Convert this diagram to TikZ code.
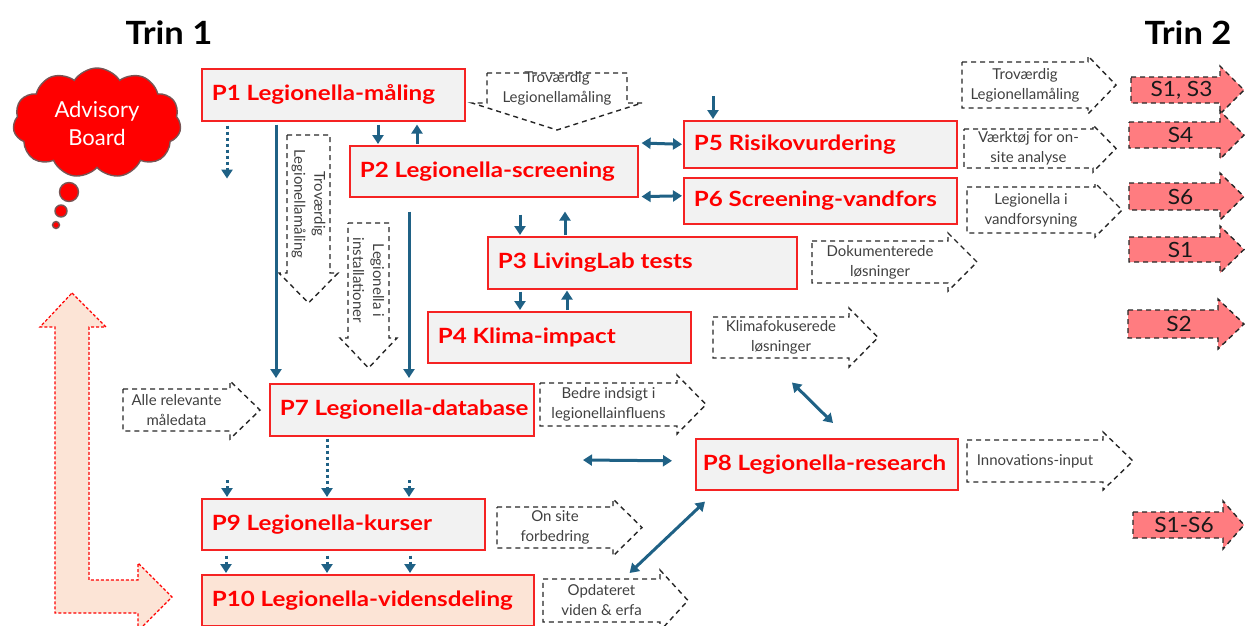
\documentclass[tikz,border=0pt]{standalone}
\usepackage{fontspec}
\setmainfont{Lato}
\newfontfamily\widefont[FakeStretch=1.15]{Lato}
\newfontfamily\midfont[FakeStretch=1.08]{Lato}
\usetikzlibrary{arrows.meta,calc,shapes.symbols}

\definecolor{flowblue}{RGB}{31,97,133}
\definecolor{boxred}{RGB}{245,35,35}
\definecolor{boxgray}{RGB}{242,242,242}
\definecolor{peach}{RGB}{252,228,214}
\definecolor{salmon}{RGB}{255,124,128}
\definecolor{labelgray}{RGB}{64,64,64}
\definecolor{cloudedge}{RGB}{120,85,85}

\tikzset{
  pbox/.style={draw=boxred, line width=1.6pt, fill=boxgray, anchor=north west,
    inner xsep=10pt, inner ysep=0pt, align=left,
    font=\widefont\fontsize{21}{24}\selectfont\bfseries, text=red},
  flow/.style={draw=flowblue, line width=3pt, -{Triangle[width=11pt,length=9pt]}},
  flow2/.style={draw=flowblue, line width=3pt,
    {Triangle[width=11pt,length=9pt]}-{Triangle[width=11pt,length=9pt]}},
  dotflow/.style={flow, dash pattern=on 3pt off 3pt},
  outline/.style={draw=black!85, line width=1.4pt, dash pattern=on 5pt off 4pt},
  outlabel/.style={text=labelgray, font=\fontsize{15}{20}\selectfont, align=center, inner sep=0pt},
  sarrow/.style={outline, fill=salmon},
  slabel/.style={text=black!90, font=\midfont\fontsize{21}{22}\selectfont, align=center, inner sep=0pt},
  heading/.style={font=\midfont\fontsize{32}{34}\selectfont\bfseries},
  bigarrow/.style={draw=red, fill=peach, line width=1.2pt, dash pattern=on 3pt off 2pt},
  puff/.style={fill=red, draw=cloudedge, line width=1.4pt},
}

% work package box: name, x, y, width, height, text width, text, extra style
\newcommand\projbox[8]{%
  \node[pbox, minimum width=#4pt, minimum height=#5pt, #8] (#1) at (#2,#3)
    {\makebox[#6pt][l]{#7}};}

% right-pointing outline arrow: name, style, left, top, bottom, head x, head extension, tip x, text
\newcommand\outbox[9]{%
  \draw[#2] (#3,#4) -- (#6,#4) -- (#6,#4-#7) -- (#8,{(#4+#5)/2}) -- (#6,#5+#7)
    -- (#6,#5) -- (#3,#5) -- cycle;
  \node[outlabel] (#1) at ({(#3+#6)/2},{(#4+#5)/2}) {#9};}

% downward outline arrow: name, left, right, top, bottom, head extension, tip y, text rotation, text
\newcommand\downbox[9]{%
  \draw[outline] (#2,#4) -- (#3,#4) -- (#3,#5) -- (#3+#6,#5) -- ({(#2+#3)/2},#7)
    -- (#2-#6,#5) -- (#2,#5) -- cycle;
  \node[outlabel, rotate=#8] (#1) at ({(#2+#3)/2},{(#4+#5)/2}) {#9};}

\begin{document}
\begin{tikzpicture}[x=1pt, y=-1pt]
\useasboundingbox (0,0) rectangle (1245,625);

% headings
\node[heading] (trin1) at (169,33) {Trin 1};
\node[heading] (trin2) at (1188,33) {Trin 2};

% advisory board
\node[cloud, cloud puffs=11, cloud puff arc=115, aspect=1.5, puff,
      minimum width=168pt, minimum height=110pt, align=center, text=white,
      font=\fontsize{22}{28}\selectfont] (board) at (97,123) {Advisory\\Board};
\draw[puff] (69,192) circle (9.5);
\draw[puff] (61,211) circle (6);
\draw[puff] (56,225) circle (3.5);

% feedback arrow on the left
\draw[bigarrow] (72,293) -- (106,327) -- (89,327) -- (89,580) -- (138,580) -- (138,563)
  -- (172,597) -- (138,631) -- (138,613) -- (55,613) -- (55,327) -- (40,327) -- cycle;

% work packages
\projbox{p1}{201}{68}{263}{52}{243}{P1 Legionella-måling}{}
\projbox{p2}{349}{145}{288}{51}{268}{P2 Legionella-screening}{}
\projbox{p5}{683}{120}{273}{47}{253}{P5 Risikovurdering}{}
\projbox{p6}{683}{177}{273}{46}{253}{P6 Screening-vandfors}{}
\projbox{p3}{487}{236}{309}{52}{289}{P3 LivingLab tests}{}
\projbox{p4}{427}{311}{263}{51}{243}{P4 Klima-impact}{}
\projbox{p7}{269}{383}{264}{52}{244}{P7 Legionella-database}{}
\projbox{p8}{695}{438}{262}{51}{248}{P8 Legionella-research}{inner xsep=7pt}
\projbox{p9}{201}{498}{283}{51}{263}{P9 Legionella-kurser}{}
\projbox{p10}{201}{574}{332}{51}{312}{P10 Legionella-vidensdeling}{fill=peach}

% outputs
\downbox{trovtop}{487}{627}{73}{103}{15}{130}{0}{Troværdig\\Legionellamåling}
\downbox{trovside}{287}{330}{135}{273}{8}{303}{-90}{Troværdig\\Legionellamåling}
\downbox{inst}{348}{389}{223}{338}{8}{368}{-90}{Legionella i\\installationer}

\outbox{trovright}{outline}{962}{62}{108}{1088}{6}{1116}{Troværdig\\Legionellamåling}
\outbox{vaerk}{outline}{964}{129}{168}{1093}{4}{1116}{Værktøj for on-\\site analyse}
\outbox{vand}{outline}{967}{187}{233}{1095}{4}{1122}{Legionella i\\vandforsyning}
\outbox{dok}{outline}{812}{241}{283}{948}{8}{977}{Dokumenterede\\løsninger}
\outbox{klima}{outline}{713}{317}{358}{849}{9}{878}{Klimafokuserede\\løsninger}
\outbox{bedre}{outline}{540}{383}{426}{677}{8}{706}{Bedre indsigt i\\legionellainfluens}
\outbox{alle}{outline}{123}{389}{431}{230}{8}{260}{Alle relevante\\måledata}
\outbox{innov}{outline}{967}{440}{482}{1103}{8}{1133}{Innovations-input}
\outbox{onsite}{outline}{497}{507}{548}{613}{8}{642}{On site\\forbedring}
\outbox{opdat}{outline}{543}{579}{622}{660}{9}{688}{Opdateret\\viden \& erfa}

% step 2 targets
\outbox{s13}{sarrow}{1131}{77}{103}{1220}{11}{1244}{}
\outbox{s4}{sarrow}{1129}{122}{148}{1220}{11}{1244}{}
\outbox{s6}{sarrow}{1129}{183}{210}{1220}{10}{1244}{}
\outbox{s1}{sarrow}{1129}{237}{262}{1220}{11}{1244}{}
\outbox{s2}{sarrow}{1128}{310}{338}{1218}{11}{1244}{}
\outbox{s16}{sarrow}{1133}{512}{538}{1223}{11}{1244}{}
\node[slabel] (ls13) at ($(s13)+(6,0)$) {S1, S3};
\node[slabel] (ls4) at ($(s4)+(6,0)$) {S4};
\node[slabel] (ls6) at ($(s6)+(6,0)$) {S6};
\node[slabel] (ls1) at ($(s1)+(6,0)$) {S1};
\node[slabel] (ls2) at ($(s2)+(6,0)$) {S2};
\node[slabel] (ls16) at ($(s16)+(6,0)$) {S1-S6};

% connectors
\coordinate (p1drop) at ($(p1.south west)+(26,57)$);
\draw[dotflow] ($(p1.south west)+(26,4)$) -- (p1drop);
\draw[flow] ($(p1.south west)+(75,3)$) -- ($(p7.north west)+(7,-5)$);
\draw[flow] ($(p1.south west)+(177,3)$) -- ($(p2.north west)+(29,-1)$);
\draw[flow] ($(p2.north west)+(68,-1)$) -- ($(p1.south west)+(216,3)$);
\draw[flow] ($(p2.south west)+(60,14)$) -- ($(p7.north west)+(140,-5)$);

\coordinate (p5in) at (713,96);
\draw[flow] (p5in) -- ($(p5.north west)+(30,-1)$);
\draw[flow2] ($(p2.north east)+(3,-2)$) -- ($(p5.west)+(-1,0)$);
\draw[flow2] ($(p2.south east)+(3,-1)$) -- ($(p6.west)+(-1,-5)$);

\draw[flow] ($(p2.south west)+(171,17)$) -- ($(p3.north west)+(33,-1)$);
\draw[flow] ($(p3.north west)+(78,-1)$) -- ($(p2.south west)+(216,14)$);
\draw[flow] ($(p3.south west)+(33,2)$) -- ($(p4.north west)+(93,-1)$);
\draw[flow] ($(p4.north west)+(140,-1)$) -- ($(p3.south west)+(80,1)$);

\draw[flow2] ($(klima)+(11,45)$) -- ($(p8.north west)+(138,-15)$);
\coordinate (midlink) at (583,460);
\draw[flow2] (midlink) -- ($(p8.west)+(-23,-3.5)$);
\draw[flow2] ($(p8.south west)+(10,11)$) -- ($(p10.north east)+(95,-1)$);

\draw[dotflow] ($(p7.south west)+(58,2)$) -- ($(p9.north west)+(126,-1)$);
\coordinate (k1) at (227,480);
\coordinate (k2) at (409,480);
\draw[dotflow] (k1) -- ($(p9.north west)+(26,-1)$);
\draw[dotflow] (k2) -- ($(p9.north west)+(208,-1)$);
\foreach \dx in {25,126,209}
  \draw[dotflow] ($(p9.south west)+(\dx,5)$) -- ($(p10.north west)+(\dx,-1)$);
\end{tikzpicture}
\end{document}
